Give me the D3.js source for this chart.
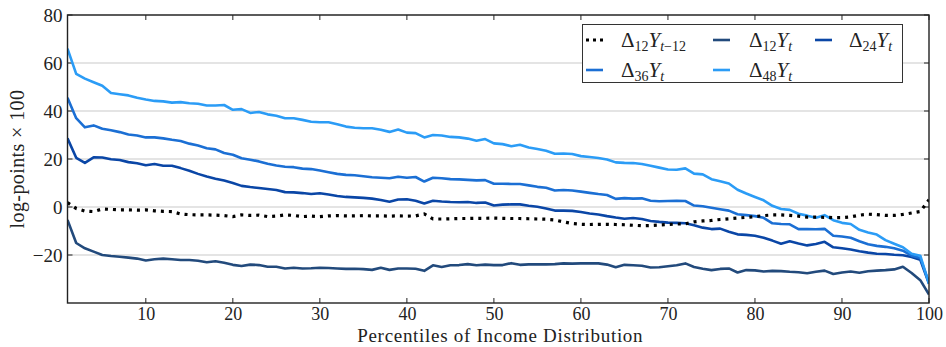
<!DOCTYPE html>
<html>
<head>
<meta charset="utf-8">
<script src="https://cdn.jsdelivr.net/npm/d3@7"></script>
<style>
  body { margin: 0; background: #fff; }
  svg { display: block; }
  text { font-family: "Liberation Serif", "DejaVu Serif", serif; fill: #222; }
</style>
</head>
<body>
<svg id="chart" width="946" height="347"></svg>
<script>
// ---------------- DATA ----------------
const percentiles = d3.range(1, 101);
const xTicks = [10, 20, 30, 40, 50, 60, 70, 80, 90, 100];
const yTicks = [-20, 0, 20, 40, 60, 80];

const d12lag = [1.8,-0.6,-1.7,-1.9,-0.8,-1,-1.2,-1.2,-1.3,-1.2,
  -1.6,-1.8,-1.9,-2.9,-3.2,-3.3,-3.3,-3.4,-3.6,-4,
  -3.3,-3.5,-3.4,-4,-3.8,-3.3,-3.5,-4,-3.8,-4,
  -3.7,-3.6,-3.7,-3.7,-3.6,-3.7,-3.7,-3.8,-3.7,-3.8,
  -3.7,-2.9,-5,-5,-4.9,-4.8,-4.8,-4.7,-4.7,-4.6,
  -4.7,-4.8,-4.8,-4.9,-5,-5.1,-5.4,-6.2,-6.9,-7.2,
  -7.3,-7.2,-7.2,-7.3,-7.4,-7.6,-7.8,-7.7,-7.5,-7.3,
  -7.1,-7,-6.2,-5.8,-5.6,-5.2,-4.9,-4.6,-4.3,-4,
  -3.6,-3.3,-3.3,-3.5,-3.8,-4.2,-4.2,-4.3,-4.4,-4.4,
  -4.1,-3.4,-3,-3.2,-3.5,-3.5,-3.1,-2.5,-1.9,3];

const d12 = [-5.4,-15,-17.2,-18.6,-20,-20.4,-20.7,-21.1,-21.5,-22.3,
  -21.8,-21.5,-21.8,-22.1,-22.1,-22.4,-23,-22.6,-23.2,-24.1,
  -24.6,-24,-24.2,-24.9,-24.9,-25.6,-25.3,-25.6,-25.5,-25.3,
  -25.4,-25.6,-25.8,-25.7,-25.9,-26.2,-25.3,-26.2,-25.6,-25.6,
  -25.7,-26.6,-24.3,-25,-24.3,-24.2,-23.8,-24.3,-24,-24.2,
  -24.2,-23.4,-24.1,-23.9,-23.9,-23.9,-23.8,-23.5,-23.6,-23.5,
  -23.5,-23.5,-24,-25.1,-24.1,-24.3,-24.5,-25.2,-25.1,-24.7,
  -24.3,-23.5,-25,-25.7,-26.3,-25.8,-25.6,-27.3,-26.3,-26.4,
  -26.9,-26.6,-26.7,-27,-27.2,-27.6,-27,-26.5,-27.9,-27.3,
  -26.9,-27.4,-26.8,-26.5,-26.3,-26,-24.9,-27.5,-30.5,-36.5];

const d24 = [28.6,20.5,18.4,20.7,20.6,19.9,19.6,18.7,18.2,17.4,
  17.9,17.2,17.2,16.2,15.1,13.8,12.7,11.8,11,10,
  8.8,8.3,7.9,7.5,7.1,6.2,6.1,5.8,5.4,5.7,
  5.2,4.6,4.2,4,3.8,3.5,2.9,2.2,3.1,3.2,
  2.6,1.5,2.6,2.3,2.1,2,2.1,1.7,1.9,0.6,
  1,1.1,1.1,0.5,0.1,-0.6,-1.5,-1.5,-1.6,-2.1,
  -2.7,-3.1,-3.8,-4.4,-4.9,-4.6,-5,-5.8,-6.2,-6.5,
  -6.6,-6.8,-7.6,-8.6,-9.2,-9,-10.3,-11.4,-11.6,-12,
  -12.8,-14,-15.3,-14.3,-15.2,-16,-15.4,-14.5,-16.8,-17.2,
  -17.7,-18.4,-19,-19.5,-19.6,-19.9,-20.1,-20.8,-22,-32];

const d36 = [45.5,37,33.2,34,32.6,32,31.2,30.2,29.8,29,
  29,28.6,28,27.5,26.4,25.6,24.5,24,22.5,21.8,
  20.3,19.7,19,18,17.3,16.8,16.6,16,15.8,15.2,
  14.5,13.8,13.4,13.2,12.8,12.4,12.2,12,12.6,12.2,
  12.5,10.6,12.2,12,11.6,11.5,11.3,11.1,11.2,9.7,
  9.7,9.6,9.6,9,8.4,8,6.9,7.1,6.9,6.4,
  5.9,5.4,5,3.4,3.7,3.5,3.6,2.6,2.4,2.5,
  2.6,2.5,0.6,0.3,-0.3,-0.9,-1.5,-3,-3.4,-3.8,
  -4.5,-6.8,-7.1,-7.2,-9.2,-9.2,-9.3,-9.1,-12,-12.3,
  -12.8,-14.3,-15.5,-16.2,-16.6,-17.2,-18.2,-20.3,-21.3,-31.5];

const d48 = [66,55.5,53.5,52,50.5,47.5,47,46.5,45.5,44.8,
  44.2,44,43.5,43.7,43.2,43,42.3,42.3,42.5,40.5,
  40.8,39.2,39.6,38.6,38,37,37,36.3,35.5,35.3,
  35.3,34.5,33.5,33,32.8,32.8,32.2,31.3,32.3,31,
  30.8,29,30,29.8,29.2,29,28.5,27.6,28.3,26.5,
  26.2,25.3,25.9,24.8,24.2,23.4,22.2,22.3,22.1,21.2,
  20.8,20.4,19.8,18.6,18.4,18.3,17.9,17.2,16.4,15.6,
  15.5,16.1,13.9,13.6,11.6,10.7,9.8,7.2,5.6,4.2,
  2.8,0.5,-0.8,-1.2,-2.8,-3.6,-4.5,-3.4,-5.5,-6.6,
  -7.1,-9.5,-10.6,-11.5,-13.8,-15.3,-16.8,-19.5,-20.3,-32];

const seriesNames = ["d12lag", "d12", "d24", "d36", "d48"];
const seriesValues = [d12lag, d12, d24, d36, d48];
const seriesColors = ["#000000", "#224a7c", "#0a46a6", "#1b6fd4", "#2b9cf6"];
// legend labels: [base, subscript, variable, subscript-italic, subscript-upright]
const legendLabels = [
  ["Δ", "12", "Y", "t", "−12"],
  ["Δ", "12", "Y", "t", ""],
  ["Δ", "24", "Y", "t", ""],
  ["Δ", "36", "Y", "t", ""],
  ["Δ", "48", "Y", "t", ""]
];
const xTitle = "Percentiles of Income Distribution";
const yTitle = "log-points × 100";

// ---------------- LAYOUT ----------------
const svg = d3.select("#chart");
const margin = { left: 67.5, top: 15, right: 17, bottom: 44 };
const W = 946, H = 347;
const pw = W - margin.left - margin.right;
const ph = H - margin.top - margin.bottom;

const x = d3.scaleLinear().domain([1, 100]).range([0, pw]);
const y = d3.scaleLinear().domain([-40, 80]).range([ph, 0]);

const g = svg.append("g").attr("transform", `translate(${margin.left},${margin.top})`);

// grid lines
g.append("g").selectAll("line").data(yTicks).join("line")
  .attr("x1", 0).attr("x2", pw)
  .attr("y1", d => y(d)).attr("y2", d => y(d))
  .attr("stroke", "#c9c9c9").attr("stroke-width", 1.2);

// y axis labels
const yAxis = d3.axisLeft(y).tickValues(yTicks).tickSize(0).tickPadding(5)
  .tickFormat(d => d < 0 ? "−" + Math.abs(d) : d);
const ya = g.append("g").call(yAxis);
ya.select(".domain").remove();
ya.selectAll("text").attr("font-size", 19).attr("fill", "#222")
  .attr("font-family", "Liberation Serif, DejaVu Serif, serif");

// x axis labels
const xAxis = d3.axisBottom(x).tickValues(xTicks).tickSize(0).tickPadding(4);
const xa = g.append("g").attr("transform", `translate(0,${ph})`).call(xAxis);
xa.select(".domain").remove();
xa.selectAll("text").attr("font-size", 18).attr("fill", "#222")
  .attr("font-family", "Liberation Serif, DejaVu Serif, serif");

// inward tick marks (top and bottom for x, left and right for y)
const tickG = g.append("g").attr("stroke", "#222").attr("stroke-width", 1);
xTicks.forEach(t => {
  tickG.append("line").attr("x1", x(t)).attr("x2", x(t)).attr("y1", ph).attr("y2", ph - 5);
  tickG.append("line").attr("x1", x(t)).attr("x2", x(t)).attr("y1", 0).attr("y2", 5);
});
yTicks.forEach(t => {
  tickG.append("line").attr("x1", 0).attr("x2", 5).attr("y1", y(t)).attr("y2", y(t));
  tickG.append("line").attr("x1", pw).attr("x2", pw - 5).attr("y1", y(t)).attr("y2", y(t));
});

// lines
const line = d3.line().x((d, i) => x(percentiles[i])).y(d => y(d));
svg.append("defs").append("clipPath").attr("id", "clip")
  .append("rect").attr("x", 0).attr("y", 0).attr("width", pw).attr("height", ph);

const linesG = g.append("g").attr("clip-path", "url(#clip)");
[1, 2, 3, 4].forEach(k => {
  linesG.append("path").datum(seriesValues[k])
    .attr("d", line).attr("fill", "none")
    .attr("stroke", seriesColors[k]).attr("stroke-width", 2.6)
    .attr("stroke-linejoin", "round");
});
linesG.append("path").datum(seriesValues[0])
  .attr("d", line).attr("fill", "none")
  .attr("stroke", seriesColors[0]).attr("stroke-width", 3.2)
  .attr("stroke-dasharray", "3,5");

// frame
g.append("rect").attr("x", 0).attr("y", 0).attr("width", pw).attr("height", ph)
  .attr("fill", "none").attr("stroke", "#222").attr("stroke-width", 1.4);

// axis titles
svg.append("text").attr("x", margin.left + pw / 2 + 2).attr("y", 342)
  .attr("text-anchor", "middle").attr("font-size", 19)
  .attr("letter-spacing", 0.7).text(xTitle);
svg.append("text")
  .attr("transform", `translate(24,${margin.top + ph / 2}) rotate(-90)`)
  .attr("text-anchor", "middle").attr("font-size", 20)
  .attr("letter-spacing", 0.4).text(yTitle);

// ---------------- LEGEND ----------------
const lg = svg.append("g");
lg.append("rect").attr("x", 582.5).attr("y", 24.5).attr("width", 320).attr("height", 58)
  .attr("fill", "#fff").attr("stroke", "#333").attr("stroke-width", 1);

const legendPos = [
  { lx: 586, ly: 40, tx: 621 },
  { lx: 713, ly: 40, tx: 749 },
  { lx: 815, ly: 40, tx: 849 },
  { lx: 586, ly: 70, tx: 621 },
  { lx: 713, ly: 70, tx: 749 }
];
[0, 1, 2, 3, 4].forEach((k, i) => {
  const p = legendPos[i];
  const sl = lg.append("line").attr("x1", p.lx).attr("x2", p.lx + 17)
    .attr("y1", p.ly).attr("y2", p.ly)
    .attr("stroke", seriesColors[k]);
  if (k === 0) sl.attr("stroke-width", 3.2).attr("stroke-dasharray", "3,4").attr("x2", p.lx + 18);
  else sl.attr("stroke-width", 2.6);
  const lab = legendLabels[k];
  const t = lg.append("text").attr("x", p.tx).attr("y", p.ly + 7).attr("font-size", 21);
  t.append("tspan").text(lab[0]);
  t.append("tspan").attr("font-size", 14).attr("dy", 4).text(lab[1]);
  t.append("tspan").attr("font-style", "italic").attr("dy", -4).text(lab[2]);
  t.append("tspan").attr("font-size", 14).attr("font-style", "italic").attr("dy", 4).text(lab[3]);
  if (lab[4]) t.append("tspan").attr("font-size", 14).text(lab[4]);
});
</script>
</body>
</html>
